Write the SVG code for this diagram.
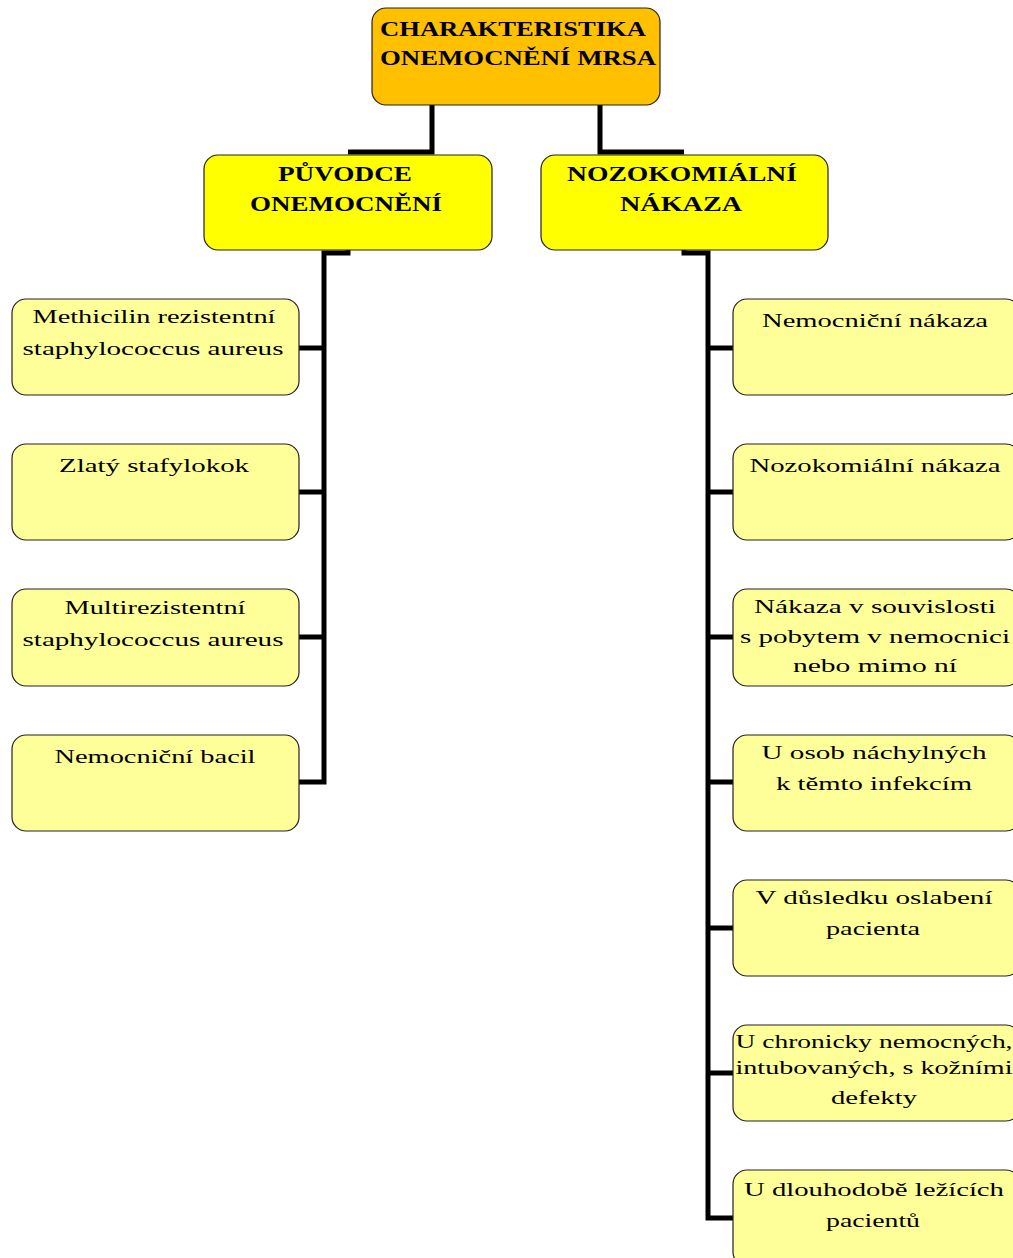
<svg xmlns="http://www.w3.org/2000/svg" width="1013" height="1258" viewBox="0 0 1013 1258">
<style>
.box{stroke:#222;stroke-width:1.2}
.root{fill:#FFC000}
.l2{fill:#FFFF00}
.leaf{fill:#FFFF99}
.t1{font-family:'Liberation Serif','DejaVu Serif','Times New Roman',serif;font-weight:bold;font-size:21px;fill:#000;text-anchor:middle}
.t2{font-family:'Liberation Serif','DejaVu Serif','Times New Roman',serif;font-size:19px;fill:#000;text-anchor:middle}
.conn{fill:none;stroke:#000;stroke-width:5;stroke-linejoin:miter}
</style>
<g id="connectors">
<path class="conn" d="M432,105 V152 H348"/>
<path class="conn" d="M600,105 V152 H684"/>
<path class="conn" d="M348,250 V253 H324 V782 H299"/>
<path class="conn" d="M324,348 H299 M324,492 H299 M324,637 H299"/>
<path class="conn" d="M684,250 V253 H708 V1218 H733"/>
<path class="conn" d="M708,348 H733 M708,492 H733 M708,637 H733 M708,782 H733 M708,928 H733 M708,1073 H733"/>
</g>
<g id="root">
<rect class="box root" x="372" y="8" width="288" height="97" rx="14"/>
<text class="t1" x="513" y="36" textLength="266" lengthAdjust="spacingAndGlyphs">CHARAKTERISTIKA</text>
<text class="t1" x="518" y="65" textLength="276" lengthAdjust="spacingAndGlyphs">ONEMOCNĚNÍ MRSA</text>
</g>
<g id="puvodce">
<rect class="box l2" x="204" y="155" width="288" height="95" rx="14"/>
<text class="t1" x="345" y="181" textLength="134" lengthAdjust="spacingAndGlyphs">PŮVODCE</text>
<text class="t1" x="346" y="211" textLength="192" lengthAdjust="spacingAndGlyphs">ONEMOCNĚNÍ</text>
</g>
<g id="nozokomialni">
<rect class="box l2" x="541" y="155" width="287" height="95" rx="14"/>
<text class="t1" x="682" y="181" textLength="230" lengthAdjust="spacingAndGlyphs">NOZOKOMIÁLNÍ</text>
<text class="t1" x="681" y="211" textLength="122" lengthAdjust="spacingAndGlyphs">NÁKAZA</text>
</g>
<g id="left1">
<rect class="box leaf" x="12" y="299" width="287" height="96" rx="14"/>
<text class="t2" x="154" y="323" textLength="243" lengthAdjust="spacingAndGlyphs">Methicilin rezistentní</text>
<text class="t2" x="153" y="355" textLength="261" lengthAdjust="spacingAndGlyphs">staphylococcus aureus</text>
</g>
<g id="left2">
<rect class="box leaf" x="12" y="444" width="287" height="96" rx="14"/>
<text class="t2" x="154" y="472" textLength="190" lengthAdjust="spacingAndGlyphs">Zlatý stafylokok</text>
</g>
<g id="left3">
<rect class="box leaf" x="12" y="589" width="287" height="97" rx="14"/>
<text class="t2" x="155" y="614" textLength="181" lengthAdjust="spacingAndGlyphs">Multirezistentní</text>
<text class="t2" x="153" y="646" textLength="261" lengthAdjust="spacingAndGlyphs">staphylococcus aureus</text>
</g>
<g id="left4">
<rect class="box leaf" x="12" y="735" width="287" height="96" rx="14"/>
<text class="t2" x="155" y="763" textLength="201" lengthAdjust="spacingAndGlyphs">Nemocniční bacil</text>
</g>
<g id="right1">
<rect class="box leaf" x="733" y="299" width="287" height="96" rx="14"/>
<text class="t2" x="875" y="327" textLength="226" lengthAdjust="spacingAndGlyphs">Nemocniční nákaza</text>
</g>
<g id="right2">
<rect class="box leaf" x="733" y="444" width="287" height="96" rx="14"/>
<text class="t2" x="875" y="472" textLength="251" lengthAdjust="spacingAndGlyphs">Nozokomiální nákaza</text>
</g>
<g id="right3">
<rect class="box leaf" x="733" y="589" width="287" height="97" rx="14"/>
<text class="t2" x="875" y="613" textLength="242" lengthAdjust="spacingAndGlyphs">Nákaza v souvislosti</text>
<text class="t2" x="875" y="643" textLength="270" lengthAdjust="spacingAndGlyphs">s pobytem v nemocnici</text>
<text class="t2" x="875" y="672" textLength="164" lengthAdjust="spacingAndGlyphs">nebo mimo ní</text>
</g>
<g id="right4">
<rect class="box leaf" x="733" y="735" width="287" height="96" rx="14"/>
<text class="t2" x="874" y="759" textLength="225" lengthAdjust="spacingAndGlyphs">U osob náchylných</text>
<text class="t2" x="874" y="790" textLength="196" lengthAdjust="spacingAndGlyphs">k těmto infekcím</text>
</g>
<g id="right5">
<rect class="box leaf" x="733" y="880" width="287" height="96" rx="14"/>
<text class="t2" x="874" y="904" textLength="237" lengthAdjust="spacingAndGlyphs">V důsledku oslabení</text>
<text class="t2" x="873" y="935" textLength="94" lengthAdjust="spacingAndGlyphs">pacienta</text>
</g>
<g id="right6">
<rect class="box leaf" x="733" y="1025" width="287" height="96" rx="14"/>
<text class="t2" x="874" y="1048" textLength="277" lengthAdjust="spacingAndGlyphs">U chronicky nemocných,</text>
<text class="t2" x="874" y="1074" textLength="277" lengthAdjust="spacingAndGlyphs">intubovaných, s kožními</text>
<text class="t2" x="874" y="1104" textLength="86" lengthAdjust="spacingAndGlyphs">defekty</text>
</g>
<g id="right7">
<rect class="box leaf" x="733" y="1170" width="287" height="96" rx="14"/>
<text class="t2" x="874" y="1196" textLength="260" lengthAdjust="spacingAndGlyphs">U dlouhodobě ležících</text>
<text class="t2" x="873" y="1227" textLength="94" lengthAdjust="spacingAndGlyphs">pacientů</text>
</g>
</svg>
